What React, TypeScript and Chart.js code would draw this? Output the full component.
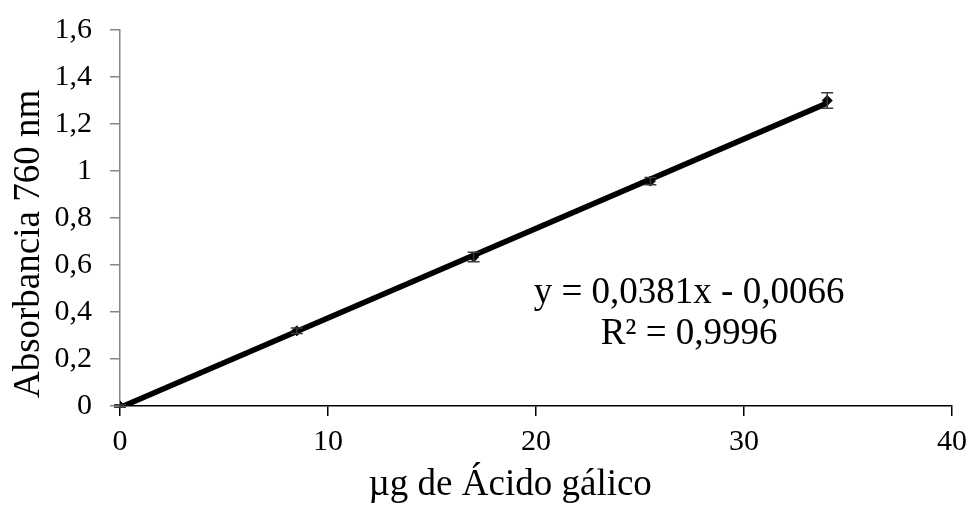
import React, { useEffect, useRef } from "react";
import { Chart, registerables } from "chart.js";

Chart.register(...registerables);

const xValues = [0, 8.5, 17, 25.5, 34];
const yValues = [0, 0.32, 0.634, 0.957, 1.3];
const yErrors = [0.005, 0.012, 0.02, 0.015, 0.033];
const trendSlope = 0.0381;
const trendIntercept = -0.0066;
const trendX = [0, 34];
const xTitle = "µg de Ácido gálico";
const yTitle = "Absorbancia 760 nm";
const equationLines = ["y = 0,0381x - 0,0066", "R² = 0,9996"];

const FONT = "'Liberation Serif', 'Times New Roman', serif";

const errorBarPlugin = {
  id: "errorBars",
  afterDatasetsDraw(chart: any) {
    const ctx = chart.ctx;
    const xs = chart.scales.x;
    const ys = chart.scales.y;
    ctx.save();
    ctx.strokeStyle = "#3a3a3a";
    ctx.lineWidth = 1.5;
    xValues.forEach((xv, i) => {
      const px = xs.getPixelForValue(xv);
      const top = ys.getPixelForValue(yValues[i] + yErrors[i]);
      const bot = ys.getPixelForValue(yValues[i] - yErrors[i]);
      ctx.beginPath();
      ctx.moveTo(px, top);
      ctx.lineTo(px, bot);
      ctx.moveTo(px - 6, top);
      ctx.lineTo(px + 6, top);
      ctx.moveTo(px - 6, bot);
      ctx.lineTo(px + 6, bot);
      ctx.stroke();
    });
    ctx.restore();
  },
};

const textPlugin = {
  id: "texts",
  afterDraw(chart: any) {
    const ctx = chart.ctx;
    const a = chart.chartArea;
    const w = a.right - a.left;
    const h = a.bottom - a.top;
    ctx.save();
    ctx.fillStyle = "#000";
    // regression equation
    const cx = a.left + w * 0.684;
    ctx.font = `37px ${FONT}`;
    ctx.textAlign = "center";
    ctx.textBaseline = "middle";
    ctx.fillText(equationLines[0], cx, a.top + h * 0.699);
    ctx.fillText(equationLines[1], cx, a.top + h * 0.809);
    // x-axis title
    ctx.textBaseline = "alphabetic";
    ctx.fillText(xTitle, a.left + w * 0.469, a.bottom + 89);
    // y-axis title
    ctx.translate(a.left - 81, a.top + h * 0.569);
    ctx.rotate(-Math.PI / 2);
    ctx.fillText(yTitle, 0, 0);
    ctx.restore();
  },
};

export default function App() {
  const ref = useRef<HTMLCanvasElement | null>(null);
  useEffect(() => {
    if (!ref.current) return;
    const trendData = trendX.map((x) => ({ x, y: trendSlope * x + trendIntercept }));
    const pts = xValues.map((x, i) => ({ x, y: yValues[i] }));
    const chart = new Chart(ref.current, {
      type: "scatter",
      data: {
        datasets: [
          {
            label: "Datos",
            data: pts,
            pointStyle: "rectRot",
            pointRadius: 5,
            backgroundColor: "#000",
            borderColor: "#000",
            showLine: false,
            order: 0,
          },
          {
            label: "Lineal",
            data: trendData,
            showLine: true,
            borderColor: "#000",
            borderWidth: 5.5,
            pointRadius: 0,
            order: 1,
          },
        ],
      },
      options: {
        animation: false,
        responsive: true,
        maintainAspectRatio: false,
        layout: { padding: { left: 0, top: 30, right: 19, bottom: 0 } },
        plugins: { legend: { display: false }, tooltip: { enabled: false } },
        scales: {
          x: {
            type: "linear",
            min: 0,
            max: 40,
            ticks: {
              stepSize: 10,
              color: "#000",
              padding: 8,
              font: { family: FONT, size: 30 },
            },
            grid: { drawOnChartArea: false, tickLength: 10, color: "#000", lineWidth: 1.5 },
            border: { color: "#000", width: 1.5 },
            title: { display: false, text: xTitle },
            afterFit: (s: any) => {
              s.height = 102;
              s.paddingLeft = 0;
              s.paddingRight = 0;
            },
          },
          y: {
            type: "linear",
            min: 0,
            max: 1.6,
            ticks: {
              stepSize: 0.2,
              color: "#000",
              padding: 18,
              font: { family: FONT, size: 30 },
              callback: (v: any) => Number(Number(v).toFixed(1)).toString().replace(".", ","),
            },
            grid: { drawOnChartArea: false, tickLength: 10, color: "#868686", lineWidth: 1.5 },
            border: { color: "#868686", width: 1.5 },
            title: { display: false, text: yTitle },
            afterFit: (s: any) => {
              s.width = 120;
              s.paddingTop = 0;
              s.paddingBottom = 0;
            },
          },
        },
      },
      plugins: [errorBarPlugin, textPlugin],
    });
    return () => chart.destroy();
  }, []);
  return (
    <div style={{ position: "absolute", left: 0, top: 0, width: 971, height: 508, background: "#fff" }}>
      <canvas ref={ref} />
    </div>
  );
}
